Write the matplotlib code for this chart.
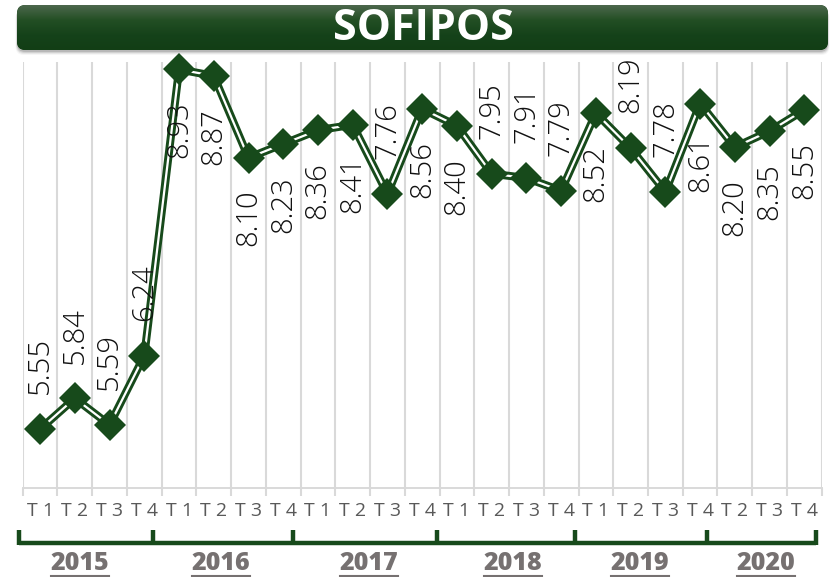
import numpy as np
import matplotlib
matplotlib.use("Agg")
import matplotlib.pyplot as plt
from matplotlib.patches import FancyBboxPatch
from matplotlib.lines import Line2D
from matplotlib.transforms import Affine2D
from matplotlib.colors import LinearSegmentedColormap

# ---------------- data ----------------
title = "SOFIPOS"
years = ["2015", "2016", "2017", "2018", "2019", "2020"]
quarters = ["T1", "T2", "T3", "T4",
            "T1", "T2", "T3", "T4",
            "T1", "T2", "T3", "T4",
            "T1", "T2", "T3", "T4",
            "T1", "T2", "T3", "T4",
            "T2", "T3", "T4"]
values = [5.55, 5.84, 5.59, 6.24,
          8.93, 8.87, 8.10, 8.23,
          8.36, 8.41, 7.76, 8.56,
          8.40, 7.95, 7.91, 7.79,
          8.52, 8.19, 7.78, 8.61,
          8.20, 8.35, 8.55]
label_side = ["above", "above", "above", "above",
              "below", "below", "below", "below",
              "below", "below", "above", "below",
              "below", "above", "above", "above",
              "below", "above", "above", "below",
              "below", "below", "below"]

# ---------------- layout / style ----------------
W, H = 836, 577
GREEN = "#174a1b"
GRID = "#d9d9d9"
GRAY_TXT = "#595959"
YEAR_TXT = "#767171"
FONT = ["Open Sans", "DejaVu Sans"]

# pixel layout of the year bracket (x in px) and year label centres
bracket_px = [19, 153, 293, 437, 575, 707, 816]
year_label_px = [80, 221, 369, 513, 640, 766]

fig = plt.figure(figsize=(W / 100, H / 100), dpi=100)
pix = Affine2D().scale(1.0 / W, -1.0 / H).translate(0, 1) + fig.transFigure  # px, top-left origin

ax_left, ax_right, ax_top, ax_bot = 22.7, 821.7, 62.0, 487.7
ax = fig.add_axes([ax_left / W, 1 - ax_bot / H, (ax_right - ax_left) / W, (ax_bot - ax_top) / H])

n = len(values)
x = np.arange(n)
ax.set_xlim(-0.5, n - 0.5)
ax.set_ylim(5, 9)
ax.set_yticks([])
for s in ["left", "right", "top"]:
    ax.spines[s].set_visible(False)
ax.spines["bottom"].set_color(GRID)
ax.spines["bottom"].set_linewidth(1.4)

ax.set_xticks(np.arange(-0.5, n), minor=True)
ax.grid(True, which="minor", axis="x", color=GRID, lw=1.5)
ax.tick_params(axis="x", which="minor", length=6, color=GRID, width=1.5)
ax.set_xticks(x)
ax.set_xticklabels([q[0] + " " + q[1] for q in quarters], family=FONT)
ax.tick_params(axis="x", which="major", length=0, pad=10, labelsize=14, labelcolor=GRAY_TXT)

# double line + diamonds
ax.plot(x, values, color=GREEN, lw=5.8, solid_joinstyle="miter", zorder=3, clip_on=False)
ax.plot(x, values, color="white", lw=1.6, solid_joinstyle="miter", zorder=4, clip_on=False)
ax.plot(x, values, linestyle="none", marker="D", ms=16.5, mfc=GREEN, mec=GREEN, mew=0,
        zorder=5, clip_on=False)

for xi, v, side in zip(x, values, label_side):
    above = side == "above"
    ax.annotate(f"{v:.2f}", (xi, v), xytext=(0, 25 if above else -23), textcoords="offset points",
                rotation=90, ha="center", va="bottom" if above else "top", fontsize=21,
                fontweight="light", family=FONT, color="#111111", zorder=6)

# year bracket
by = 543
fig.add_artist(Line2D([bracket_px[0], bracket_px[-1]], [by, by], transform=pix,
                      color=GREEN, lw=3.2, solid_capstyle="butt"))
for bxp in bracket_px:
    fig.add_artist(Line2D([bxp, bxp], [530, by + 1.5], transform=pix, color=GREEN, lw=3.2,
                          solid_capstyle="butt"))

year_texts = []
for yl, xp in zip(years, year_label_px):
    t = fig.text(xp / W, 1 - 563 / H, yl, ha="center", va="center", fontsize=18,
                 fontweight="heavy", color=YEAR_TXT, family=FONT)
    year_texts.append(t)

# title banner (shadow, gradient fill, text)
bx0, by0, bx1, by1 = 17, 5, 828, 50
for k, a in enumerate([0.12, 0.09, 0.06, 0.035]):
    fig.add_artist(FancyBboxPatch(((bx0 - k * 0.5) / W, 1 - (by1 + 2 + k) / H),
                                  (bx1 - bx0 + k) / W, (by1 - by0) / H,
                                  boxstyle="round,pad=0,rounding_size=0.01",
                                  transform=fig.transFigure, facecolor="black", alpha=a,
                                  edgecolor="none", mutation_aspect=W / H))
fig.add_artist(FancyBboxPatch((bx0 / W, 1 - by1 / H), (bx1 - bx0) / W, (by1 - by0) / H,
                              boxstyle="round,pad=0,rounding_size=0.01",
                              transform=fig.transFigure, facecolor="#1c4a1e", edgecolor="none",
                              mutation_aspect=W / H))
bax = fig.add_axes([0, 0, 1, 1], zorder=10)
bax.set_xlim(0, 1)
bax.set_ylim(0, 1)
bax.axis("off")
grad = np.linspace(0, 1, 64).reshape(-1, 1)
cmap = LinearSegmentedColormap.from_list("g", ["#4c674c", "#234f24", "#15421a", "#123e15"])
im = bax.imshow(grad, cmap=cmap, aspect="auto", origin="upper",
                extent=[bx0 / W, bx1 / W, 1 - by1 / H, 1 - by0 / H], zorder=1)
clip = FancyBboxPatch((bx0 / W, 1 - by1 / H), (bx1 - bx0) / W, (by1 - by0) / H,
                      boxstyle="round,pad=0,rounding_size=0.01",
                      transform=bax.transAxes, facecolor="none", edgecolor="none",
                      mutation_aspect=W / H)
bax.add_patch(clip)
im.set_clip_path(clip)
bax.text(423 / W, 1 - 28 / H, title, ha="center", va="center", fontsize=31, fontweight="bold",
         color="white", family=FONT, zorder=3, transform=bax.transAxes)

# underline years
fig.canvas.draw()
r = fig.canvas.get_renderer()
for t in year_texts:
    bb = t.get_window_extent(r)
    fig.add_artist(Line2D([bb.x0 / W, bb.x1 / W], [1 - 576 / H, 1 - 576 / H],
                          transform=fig.transFigure, color=YEAR_TXT, lw=1.5))

fig.savefig("out.png", dpi=100)
